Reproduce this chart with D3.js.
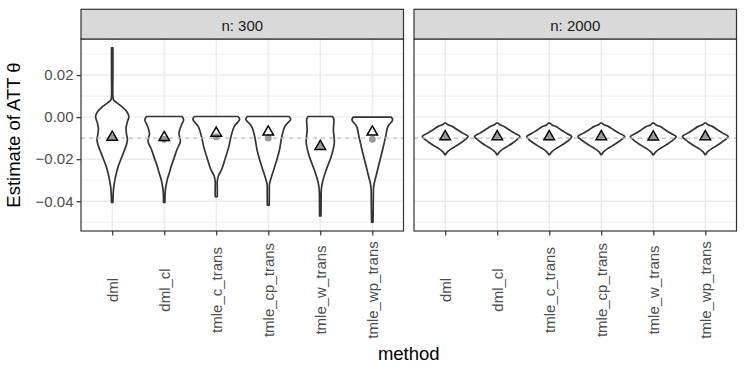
<!DOCTYPE html>
<html>
<head>
<meta charset="utf-8">
<script src="https://cdn.jsdelivr.net/npm/d3@7"></script>
<style>
  body { margin: 0; background: #fff; }
  text { font-family: "Liberation Sans", Arial, sans-serif; }
</style>
</head>
<body>
<svg id="chart" width="747" height="374"></svg>
<script>
// categories and panels
const methods = ["dml", "dml_cl", "tmle_c_trans", "tmle_cp_trans", "tmle_w_trans", "tmle_wp_trans"];
const panels = ["n: 300", "n: 2000"];
const trueATT = -0.01;
const yMajor = [0.02, 0, -0.02, -0.04];
const yMinor = [0.03, 0.01, -0.01, -0.03, -0.05];

// triangles (mean) and grey dots (median)
const mean300 = [-0.0096, -0.0097, -0.0076, -0.0071, -0.0139, -0.0071];
const median300 = [-0.0097, -0.0105, -0.0093, -0.0099, -0.0138, -0.0105];
const mean2000 = [-0.0093, -0.0093, -0.0093, -0.0093, -0.0094, -0.0093];
const median2000 = [-0.0093, -0.0093, -0.0093, -0.0093, -0.0094, -0.0093];

// violin profiles: [estimate, scaled density], top to bottom
const dens300_dml = [[0.0330, 0.03], [0.0200, 0.03], [0.0092, 0.035], [0.0080, 0.07], [0.0068, 0.20], [0.0052, 0.39],
  [0.0027, 0.62], [0.0003, 0.71], [-0.0025, 0.64], [-0.0052, 0.59], [-0.0080, 0.61], [-0.0107, 0.65], [-0.0130, 0.61],
  [-0.0155, 0.53], [-0.0192, 0.40], [-0.0233, 0.26], [-0.0265, 0.18], [-0.0296, 0.12], [-0.0328, 0.07],
  [-0.0358, 0.045], [-0.0385, 0.035], [-0.0406, 0.03]];
const dens300_dml_cl = [[0.0003, 0.76], [-0.0013, 0.83], [-0.0036, 0.74], [-0.0076, 0.63], [-0.0115, 0.69],
  [-0.0155, 0.54], [-0.0195, 0.42], [-0.0233, 0.30], [-0.0265, 0.22], [-0.0296, 0.13], [-0.0325, 0.08],
  [-0.0345, 0.05], [-0.0370, 0.035], [-0.0406, 0.03]];
const dens300_tmle_c = [[0.0003, 0.93], [-0.0010, 1.0], [-0.0044, 0.77], [-0.0092, 0.63], [-0.0139, 0.54],
  [-0.0202, 0.37], [-0.0249, 0.23], [-0.0280, 0.09], [-0.0304, 0.045], [-0.0340, 0.045], [-0.0378, 0.045]];
const dens300_tmle_cp = [[0.0003, 0.89], [-0.0010, 0.96], [-0.0044, 0.71], [-0.0092, 0.58], [-0.0155, 0.48],
  [-0.0202, 0.37], [-0.0265, 0.19], [-0.0300, 0.09], [-0.0320, 0.05], [-0.0360, 0.045], [-0.0419, 0.04]];
const dens300_tmle_w = [[0.0003, 0.52], [-0.0010, 0.58], [-0.0060, 0.56], [-0.0123, 0.60], [-0.0186, 0.47],
  [-0.0249, 0.26], [-0.0290, 0.14], [-0.0312, 0.09], [-0.0343, 0.045], [-0.0400, 0.035], [-0.0470, 0.03]];
const dens300_tmle_wp = [[0.0000, 0.81], [-0.0013, 0.87], [-0.0044, 0.67], [-0.0092, 0.57], [-0.0155, 0.44],
  [-0.0217, 0.30], [-0.0280, 0.16], [-0.0328, 0.06], [-0.0375, 0.045], [-0.0430, 0.04], [-0.0500, 0.03]];

const dens2000_dml = [[-0.0028, 0.03], [-0.0036, 0.12], [-0.0044, 0.30], [-0.0060, 0.52], [-0.0076, 0.75],
  [-0.0092, 0.98], [-0.0108, 0.84], [-0.0123, 0.66], [-0.0138, 0.45], [-0.0150, 0.27], [-0.0162, 0.13],
  [-0.0172, 0.05], [-0.0178, 0.02]];
const dens2000_dml_cl = [[-0.0028, 0.03], [-0.0036, 0.12], [-0.0044, 0.29], [-0.0060, 0.51], [-0.0076, 0.74],
  [-0.0092, 0.97], [-0.0108, 0.83], [-0.0123, 0.66], [-0.0138, 0.45], [-0.0150, 0.27], [-0.0162, 0.13],
  [-0.0172, 0.05], [-0.0179, 0.02]];
const dens2000_tmle_c = [[-0.0029, 0.03], [-0.0037, 0.12], [-0.0045, 0.29], [-0.0061, 0.51], [-0.0077, 0.74],
  [-0.0093, 0.96], [-0.0109, 0.84], [-0.0124, 0.66], [-0.0139, 0.45], [-0.0151, 0.27], [-0.0163, 0.13],
  [-0.0173, 0.05], [-0.0179, 0.02]];
const dens2000_tmle_cp = [[-0.0028, 0.03], [-0.0036, 0.12], [-0.0044, 0.30], [-0.0060, 0.52], [-0.0076, 0.76],
  [-0.0092, 1.0], [-0.0108, 0.85], [-0.0123, 0.66], [-0.0138, 0.45], [-0.0150, 0.27], [-0.0162, 0.13],
  [-0.0172, 0.05], [-0.0178, 0.02]];
const dens2000_tmle_w = [[-0.0029, 0.03], [-0.0037, 0.12], [-0.0045, 0.30], [-0.0061, 0.52], [-0.0077, 0.75],
  [-0.0093, 0.98], [-0.0109, 0.84], [-0.0124, 0.66], [-0.0139, 0.45], [-0.0151, 0.27], [-0.0163, 0.13],
  [-0.0173, 0.05], [-0.0179, 0.02]];
const dens2000_tmle_wp = [[-0.0028, 0.03], [-0.0036, 0.12], [-0.0044, 0.30], [-0.0060, 0.52], [-0.0076, 0.75],
  [-0.0092, 0.98], [-0.0108, 0.84], [-0.0123, 0.66], [-0.0138, 0.45], [-0.0150, 0.27], [-0.0162, 0.13],
  [-0.0172, 0.05], [-0.0178, 0.02]];

// build one table per panel
let panelData = [
  { label: panels[0], mean: mean300, median: median300,
    dens: [dens300_dml, dens300_dml_cl, dens300_tmle_c, dens300_tmle_cp, dens300_tmle_w, dens300_tmle_wp] },
  { label: panels[1], mean: mean2000, median: median2000,
    dens: [dens2000_dml, dens2000_dml_cl, dens2000_tmle_c, dens2000_tmle_cp, dens2000_tmle_w, dens2000_tmle_wp] }
];

// layout
let svg = d3.select("#chart");
let stripTop = 9.3, panelTop = 39, panelBottom = 231;
let panelLeft = [81, 414], panelWidth = 322.5;
let fontSmall = 15, fontTitle = 18.5;

// y range from the data with ggplot's 5% expansion
let allValues = [];
panelData.forEach(p => p.dens.forEach(d => d.forEach(pt => allValues.push(pt[0]))));
let yMin = d3.min(allValues), yMax = d3.max(allValues);
let pad = (yMax - yMin) * 0.05;
let y = d3.scaleLinear().domain([yMin - pad, yMax + pad]).range([panelBottom - panelTop, 0]);

let x = d3.scalePoint().domain(methods).range([0, panelWidth]).padding(0.6);
let halfMax = x.step() * 0.45;

let violin = d3.area()
  .y(d => y(d[0]))
  .x0(d => -d[1] * halfMax)
  .x1(d => d[1] * halfMax)
  .curve(d3.curveCatmullRom);

panelData.forEach((p, pi) => {
  let g = svg.append("g").attr("transform", `translate(${panelLeft[pi]},${panelTop})`);
  let h = panelBottom - panelTop;

  g.append("rect").attr("width", panelWidth).attr("height", h).attr("fill", "#fff");

  // grid
  g.selectAll(".minor").data(yMinor).join("line")
    .attr("x1", 0).attr("x2", panelWidth)
    .attr("y1", d => y(d)).attr("y2", d => y(d))
    .attr("stroke", "#EBEBEB").attr("stroke-width", 0.8);
  g.selectAll(".major").data(yMajor).join("line")
    .attr("x1", 0).attr("x2", panelWidth)
    .attr("y1", d => y(d)).attr("y2", d => y(d))
    .attr("stroke", "#EBEBEB").attr("stroke-width", 1.4);
  g.selectAll(".vgrid").data(methods).join("line")
    .attr("x1", d => x(d)).attr("x2", d => x(d))
    .attr("y1", 0).attr("y2", h)
    .attr("stroke", "#EBEBEB").attr("stroke-width", 1.4);

  // violins
  methods.forEach((m, i) => {
    g.append("path")
      .attr("transform", `translate(${x(m)},0)`)
      .attr("d", violin(p.dens[i]))
      .attr("fill", "#fff")
      .attr("stroke", "#333333")
      .attr("stroke-width", 1.7)
      .attr("stroke-linejoin", "round");
  });

  // true value
  g.append("line")
    .attr("x1", 0).attr("x2", panelWidth)
    .attr("y1", y(trueATT)).attr("y2", y(trueATT))
    .attr("stroke", "#BEBEBE").attr("stroke-width", 1.4)
    .attr("stroke-dasharray", "4,4");

  // medians and means
  g.selectAll(".med").data(methods).join("circle")
    .attr("cx", d => x(d))
    .attr("cy", (d, i) => y(p.median[i]))
    .attr("r", 3.5)
    .attr("fill", "#9A9A9A");
  g.selectAll(".mean").data(methods).join("path")
    .attr("transform", (d, i) => `translate(${x(d)},${y(p.mean[i])})`)
    .attr("d", d3.symbol(d3.symbolTriangle, 48))
    .attr("fill", "none")
    .attr("stroke", "#000")
    .attr("stroke-width", 1.5);

  // border
  g.append("rect").attr("width", panelWidth).attr("height", h)
    .attr("fill", "none").attr("stroke", "#333333").attr("stroke-width", 1.2);

  // strip
  g.append("rect").attr("y", stripTop - panelTop).attr("width", panelWidth).attr("height", panelTop - stripTop)
    .attr("fill", "#D9D9D9").attr("stroke", "#333333").attr("stroke-width", 1.2);
  g.append("text")
    .attr("x", panelWidth / 2).attr("y", 31 - panelTop)
    .attr("text-anchor", "middle")
    .attr("font-size", fontSmall).attr("fill", "#1A1A1A")
    .text(p.label);

  // x axis
  let xAxis = g.append("g").attr("transform", `translate(0,${h})`)
    .call(d3.axisBottom(x).tickSize(4.5).tickSizeOuter(0));
  xAxis.select(".domain").remove();
  xAxis.selectAll("line").attr("stroke", "#333333").attr("stroke-width", 1.2);
  xAxis.selectAll("text")
    .attr("x", 0).attr("y", 0).attr("dy", "0.35em")
    .attr("transform", `translate(0,${290 - panelBottom}) rotate(-90)`)
    .style("text-anchor", "middle")
    .attr("font-size", fontSmall).attr("fill", "#4D4D4D")
    .attr("font-family", null);

  // y axis on the first panel
  if (pi === 0) {
    let yAxis = g.append("g")
      .call(d3.axisLeft(y).tickValues(yMajor).tickFormat(d3.format(".2f")).tickSize(4.5).tickPadding(3));
    yAxis.select(".domain").remove();
    yAxis.selectAll("line").attr("stroke", "#333333").attr("stroke-width", 1.2);
    yAxis.selectAll("text").attr("font-size", fontSmall).attr("fill", "#4D4D4D").attr("font-family", null);
  }
});

// axis titles
svg.append("text")
  .attr("transform", `translate(20,${(panelTop + panelBottom) / 2}) rotate(-90)`)
  .attr("text-anchor", "middle")
  .attr("font-size", fontTitle)
  .text("Estimate of ATT θ");

svg.append("text")
  .attr("x", (panelLeft[0] + panelLeft[1] + panelWidth) / 2)
  .attr("y", 360)
  .attr("text-anchor", "middle")
  .attr("font-size", fontTitle)
  .text("method");
</script>
</body>
</html>
